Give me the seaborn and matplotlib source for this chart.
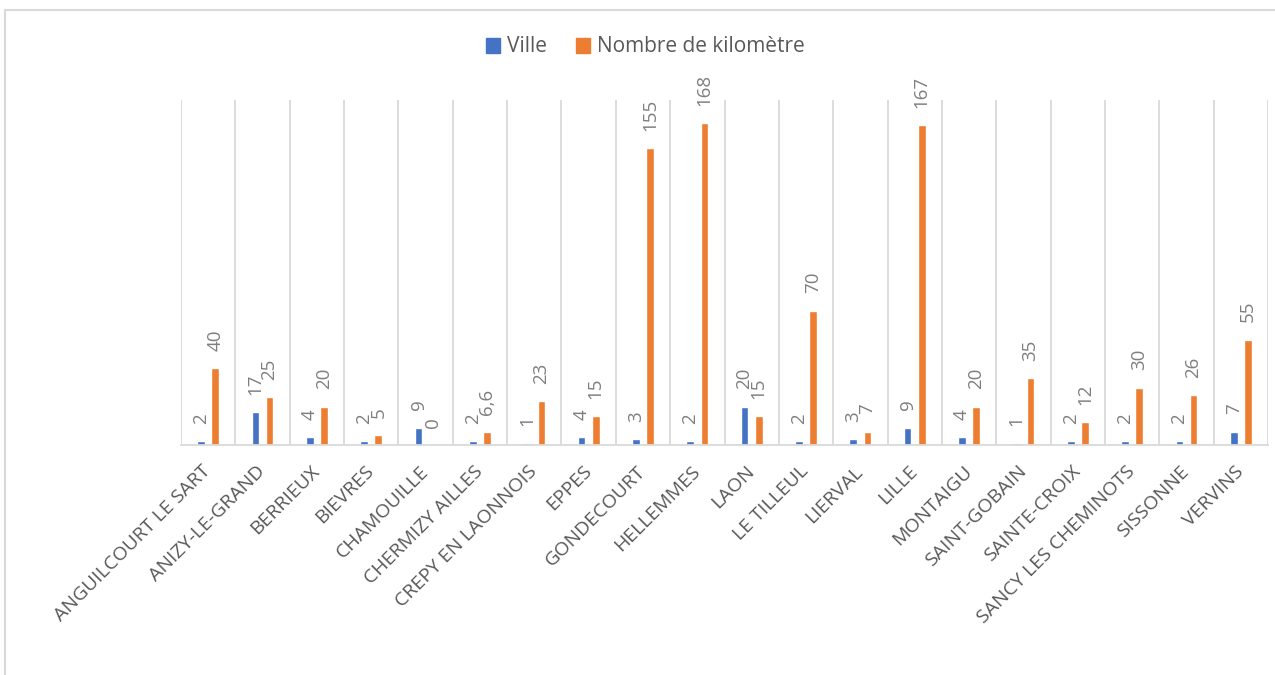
import matplotlib
matplotlib.use("Agg")
import matplotlib.pyplot as plt
from matplotlib.lines import Line2D
from matplotlib.ticker import FixedLocator
import seaborn as sns
import pandas as pd

categories = ["ANGUILCOURT LE SART", "ANIZY-LE-GRAND", "BERRIEUX", "BIEVRES",
              "CHAMOUILLE", "CHERMIZY AILLES", "CREPY EN LAONNOIS", "EPPES",
              "GONDECOURT", "HELLEMMES", "LAON", "LE TILLEUL", "LIERVAL", "LILLE",
              "MONTAIGU", "SAINT-GOBAIN", "SAINTE-CROIX", "SANCY LES CHEMINOTS",
              "SISSONNE", "VERVINS"]
ville = [2, 17, 4, 2, 9, 2, 1, 4, 3, 2, 20, 2, 3, 9, 4, 1, 2, 2, 2, 7]
km = [40, 25, 20, 5, 0, 6.6, 23, 15, 155, 168, 15, 70, 7, 167, 20, 35, 12, 30, 26, 55]
series_names = ["Ville", "Nombre de kilomètre"]
colors = ["#4472C4", "#ED7D31"]

df = pd.DataFrame({
    "cat": categories * 2,
    "serie": [series_names[0]] * len(categories) + [series_names[1]] * len(categories),
    "val": ville + km,
})

sns.set_theme(style="white")
plt.rcParams["font.family"] = ["Open Sans", "DejaVu Sans"]

fig = plt.figure(figsize=(12.75, 6.75), dpi=100)
ax = fig.add_axes([181 / 1275, 1 - 445 / 675, (1268 - 181) / 1275, (445 - 100) / 675])

sns.barplot(data=df, x="cat", y="val", hue="serie", palette=colors,
            order=categories, hue_order=series_names, width=0.52, gap=0.46,
            saturation=1, ax=ax, legend=False)

def fmt(v):
    s = f"{v:g}"
    return s.replace(".", ",")

label_color = "#7F7F7F"
for cont, vals in zip(ax.containers, [ville, km]):
    ax.bar_label(cont, labels=[fmt(v) for v in vals], rotation=90, padding=12.5,
                 fontsize=13.5, color=label_color)

ax.set_xlim(-0.5, len(categories) - 0.5)
ax.set_ylim(0, 180)
ax.set_xlabel("")
ax.set_ylabel("")
ax.set_yticks([])
for s in ["top", "right", "left"]:
    ax.spines[s].set_visible(False)
ax.spines["bottom"].set_color("#D9D9D9")
ax.spines["bottom"].set_linewidth(1.3)

ax.xaxis.set_minor_locator(FixedLocator([i - 0.5 for i in range(len(categories) + 1)]))
ax.grid(which="minor", axis="x", color="#D9D9D9", linewidth=1.3)
ax.grid(which="major", visible=False)
ax.tick_params(axis="x", which="both", length=0, pad=17)
ax.set_xticks(range(len(categories)))
ax.set_xticklabels(categories, rotation=45, ha="right", va="center",
                   rotation_mode="anchor", fontsize=14, color="#595959")

handles = [plt.Rectangle((0, 0), 1, 1, color=c) for c in colors]
fig.legend(handles, series_names, loc="center", bbox_to_anchor=(0.506, 1 - 47 / 675),
           ncol=2, frameon=False, fontsize=15, handlelength=0.7, handleheight=0.7,
           handletextpad=0.3, columnspacing=1.4, labelcolor="#595959")

fig.add_artist(Line2D([5 / 1275, 1.0], [1 - 10 / 675, 1 - 10 / 675],
                      transform=fig.transFigure, color="#D9D9D9", linewidth=1.5))
fig.add_artist(Line2D([5 / 1275, 5 / 1275], [0, 1 - 10 / 675],
                      transform=fig.transFigure, color="#D9D9D9", linewidth=1.5))

fig.savefig("out.png", dpi=100, facecolor="white")
